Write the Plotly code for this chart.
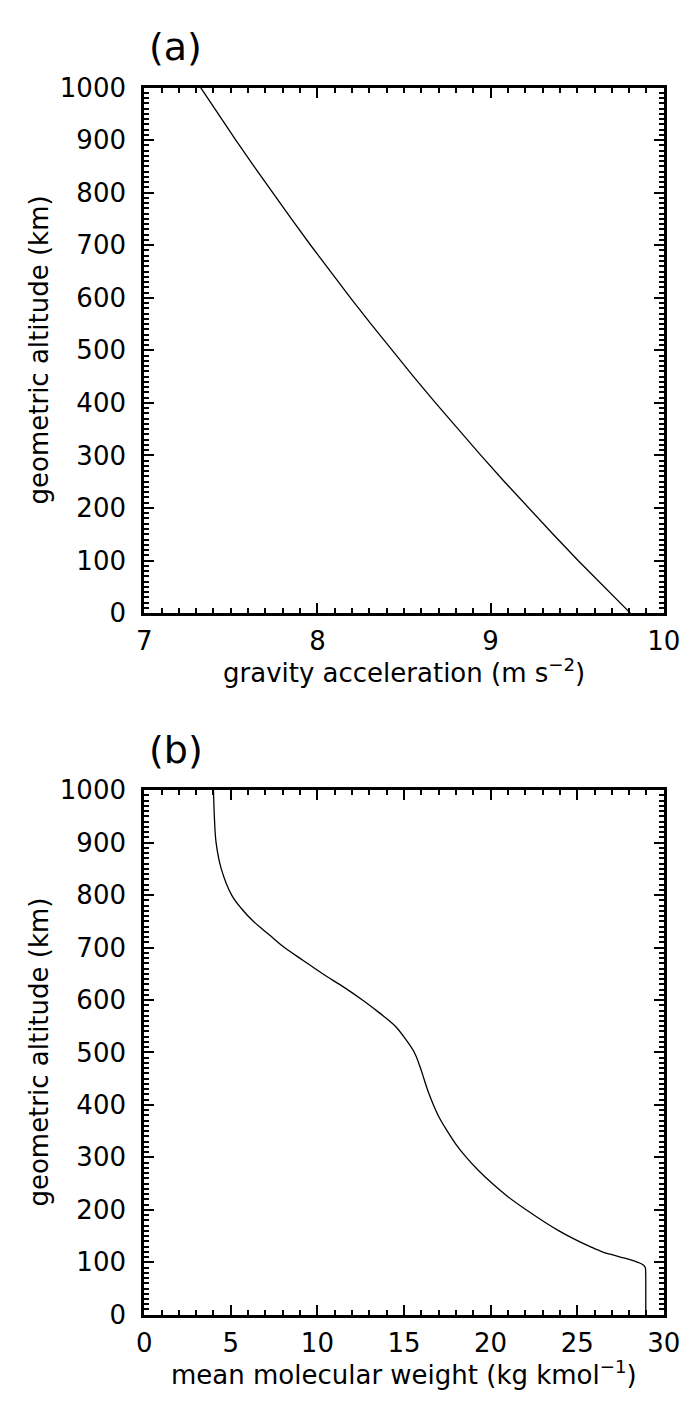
import plotly.graph_objects as go

# ---------------- data ----------------
alt_a = [0, 50, 100, 150, 200, 250, 300, 350, 400, 450, 500,
         550, 600, 650, 700, 750, 800, 850, 900, 950, 1000]
gravity = [9.807, 9.655, 9.505, 9.361, 9.218, 9.080, 8.944, 8.812, 8.682, 8.555, 8.431,
           8.310, 8.191, 8.075, 7.961, 7.850, 7.741, 7.634, 7.529, 7.427, 7.326]

alt_b = [0, 50, 85, 90, 95, 100, 105, 110, 115, 120, 130, 140, 150, 160, 175,
         200, 225, 250, 275, 300, 325, 350, 375, 400, 425, 450, 475, 500,
         525, 550, 575, 600, 625, 650, 675, 700, 725, 750, 775, 800, 850, 900,
         950, 1000]
mmw = [28.96, 28.96, 28.95, 28.93, 28.82, 28.5, 28.05, 27.5, 26.95, 26.45, 25.75,
       25.1, 24.5, 23.95, 23.2, 22.05, 21.0, 20.1, 19.3, 18.6, 18.0, 17.5,
       17.05, 16.7, 16.4, 16.15, 15.9, 15.6, 15.1, 14.5, 13.6, 12.6, 11.5, 10.3,
       9.2, 8.1, 7.2, 6.3, 5.6, 5.05, 4.45, 4.15, 4.05, 4.0]

x_ticks_a = [7, 8, 9, 10]
x_ticks_b = [0, 5, 10, 15, 20, 25, 30]
y_ticks = [0, 100, 200, 300, 400, 500, 600, 700, 800, 900, 1000]

# ---------------- layout geometry ----------------
W, H = 694, 1401
L, R = 133, 672
A_TOP, A_BOT = 66, 603
B_TOP, B_BOT = 784, 1320
FONT = "DejaVu Sans"


def py(p):
    return 1 - p / H


fig = go.Figure()
fig.add_trace(go.Scatter(x=gravity, y=alt_a, mode="lines", line=dict(color="black", width=1.3),
                         xaxis="x", yaxis="y", showlegend=False))
fig.add_trace(go.Scatter(x=mmw, y=alt_b, mode="lines", line=dict(color="black", width=1.3),
                         xaxis="x2", yaxis="y2", showlegend=False, line_shape="spline"))

common = dict(showline=True, linewidth=3, linecolor="black", mirror="ticks",
              ticks="inside", ticklen=10, tickwidth=2, tickcolor="black",
              showgrid=False, zeroline=False,
              tickfont=dict(family=FONT, size=26, color="black"))

fig.update_layout(
    width=W, height=H, margin=dict(l=0, r=0, t=0, b=0),
    paper_bgcolor="white", plot_bgcolor="white",
    xaxis=dict(domain=[L / W, R / W], range=[7, 10], tickvals=x_ticks_a,
               minor=dict(ticks="inside", ticklen=5, tickwidth=2, dtick=0.1, tickcolor="black"),
               anchor="y", ticklabelstandoff=3, **common),
    yaxis=dict(domain=[py(A_BOT), py(A_TOP)], range=[0, 1000], tickvals=y_ticks,
               minor=dict(ticks="inside", ticklen=5, tickwidth=2, dtick=10, tickcolor="black"),
               anchor="x", ticklabelstandoff=10, **common),
    xaxis2=dict(domain=[L / W, R / W], range=[0, 30], tickvals=x_ticks_b,
                minor=dict(ticks="inside", ticklen=5, tickwidth=2, dtick=1, tickcolor="black"),
                anchor="y2", ticklabelstandoff=3, **common),
    yaxis2=dict(domain=[py(B_BOT), py(B_TOP)], range=[0, 1000], tickvals=y_ticks,
                minor=dict(ticks="inside", ticklen=5, tickwidth=2, dtick=10, tickcolor="black"),
                anchor="x2", ticklabelstandoff=10, **common),
)

tfont = dict(family=FONT, size=26, color="black")
pfont = dict(family=FONT, size=38, color="black")
ann = [
    dict(text="(a)", x=165 / W, y=py(25), font=pfont),
    dict(text="(b)", x=166 / W, y=py(743), font=pfont),
    dict(text="gravity acceleration (m s<sup>−2</sup>)", x=(L + R) / 2 / W, y=py(662), font=tfont),
    dict(text="mean molecular weight (kg kmol<sup>−1</sup>)", x=(L + R) / 2 / W, y=py(1380), font=tfont),
    dict(text="geometric altitude (km)", x=24 / W, y=py((A_TOP + A_BOT) / 2), textangle=-90, font=tfont),
    dict(text="geometric altitude (km)", x=24 / W, y=py((B_TOP + B_BOT) / 2), textangle=-90, font=tfont),
]
for a in ann:
    a.update(xref="paper", yref="paper", showarrow=False, xanchor="center", yanchor="middle")
fig.update_layout(annotations=ann)

fig.write_html("out.html")
